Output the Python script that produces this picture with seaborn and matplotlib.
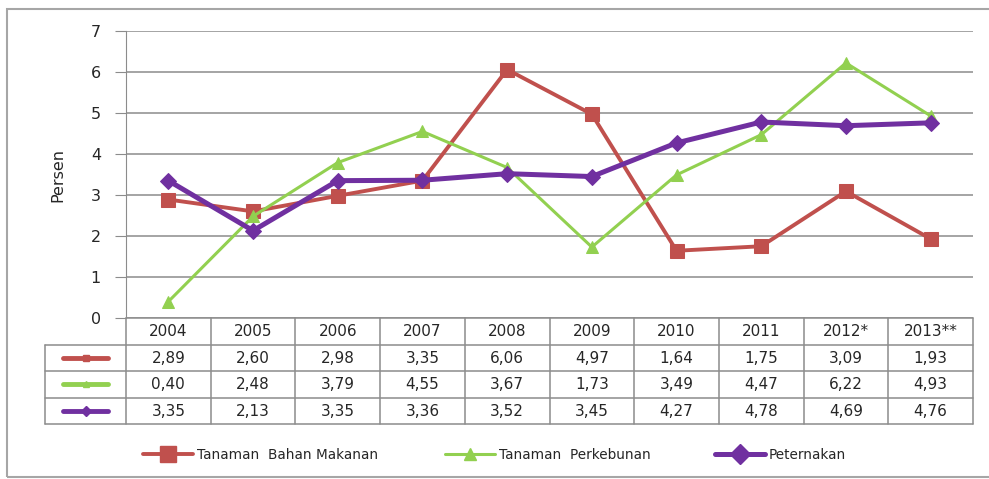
import pandas as pd
import numpy as np
import matplotlib
matplotlib.use("Agg")
import matplotlib.pyplot as plt
import seaborn as sns
from matplotlib.lines import Line2D
from matplotlib.patches import Rectangle

# ==========================================
# Data
# ==========================================

years = ["2004", "2005", "2006", "2007", "2008", "2009", "2010", "2011", "2012*", "2013**"]
bahan_makanan = [2.89, 2.60, 2.98, 3.35, 6.06, 4.97, 1.64, 1.75, 3.09, 1.93]
perkebunan = [0.40, 2.48, 3.79, 4.55, 3.67, 1.73, 3.49, 4.47, 6.22, 4.93]
peternakan = [3.35, 2.13, 3.35, 3.36, 3.52, 3.45, 4.27, 4.78, 4.69, 4.76]

series_names = ["Tanaman  Bahan Makanan", "Tanaman  Perkebunan", "Peternakan"]
series_values = [bahan_makanan, perkebunan, peternakan]
colors = ["#C0504D", "#92D050", "#7030A0"]
markers = ["s", "^", "D"]
marker_sizes = [10, 9, 8]
line_widths = [2.8, 2.2, 3.6]

rows = []
for name, vals in zip(series_names, series_values):
    for i, v in enumerate(vals):
        rows.append({"idx": i, "year": years[i], "value": v, "series": name})
df = pd.DataFrame(rows)

# ==========================================
# Figure
# ==========================================

W, H = 989, 479
fig = plt.figure(figsize=(W / 100, H / 100), dpi=100)
sns.set_style("white")
plt.rcParams["font.family"] = ["DejaVu Sans"]

def fx(px):
    return px / W

def fy(py):
    return 1 - py / H

left_px, right_px = 126, 973
top_px, bottom_px = 31, 318
table_left_px, table_bottom_px = 45, 424
gc = "#8C8C8C"

ax = fig.add_axes([fx(left_px), fy(bottom_px), fx(right_px) - fx(left_px), fy(top_px) - fy(bottom_px)])

for name, color, m, ms, lw in zip(series_names, colors, markers, marker_sizes, line_widths):
    sub = df[df["series"] == name]
    sns.lineplot(data=sub, x="idx", y="value", ax=ax, color=color, marker=m,
                 markersize=ms, linewidth=lw, markeredgecolor=color, legend=False)

ax.set_xlim(-0.5, len(years) - 0.5)
ax.set_ylim(0, 7)
ax.set_yticks(range(0, 8))
ax.set_xticks([])
ax.set_xlabel("")
ax.set_ylabel("Persen", fontsize=11.5, labelpad=18)
ax.yaxis.grid(True, color=gc, linewidth=1.1)
ax.tick_params(axis="y", length=8, color=gc, labelsize=11.5, pad=10, left=True)
for s in ["top", "right", "bottom"]:
    ax.spines[s].set_visible(False)
ax.spines["left"].set_color(gc)

# ==========================================
# Data Table
# ==========================================

tax = fig.add_axes([fx(table_left_px), fy(table_bottom_px),
                    fx(right_px) - fx(table_left_px), fy(bottom_px) - fy(table_bottom_px)])
col_w = (right_px - left_px) / len(years)
label_w = (left_px - table_left_px) / col_w
tax.set_xlim(-0.5 - label_w, len(years) - 0.5)
tax.set_ylim(4, 0)
tax.axis("off")

# horizontal lines
tax.plot([-0.5, len(years) - 0.5], [0, 0], color=gc, lw=1.1, clip_on=False)
for r in range(1, 5):
    tax.plot([-0.5 - label_w, len(years) - 0.5], [r, r], color=gc, lw=1.1, clip_on=False)
# vertical lines
for c in range(len(years) + 1):
    tax.plot([c - 0.5, c - 0.5], [0, 4], color=gc, lw=1.1, clip_on=False)
tax.plot([-0.5 - label_w, -0.5 - label_w], [1, 4], color=gc, lw=1.1, clip_on=False)

for i, y in enumerate(years):
    tax.text(i, 0.52, y, ha="center", va="center", fontsize=11)
for r, vals in enumerate(series_values):
    for i, v in enumerate(vals):
        tax.text(i, r + 1.52, f"{v:.2f}".replace(".", ","), ha="center", va="center", fontsize=11)
    cx = -0.5 - label_w / 2
    tax.plot([cx - 0.26, cx + 0.26], [r + 1.5, r + 1.5], color=colors[r], lw=3.5,
             solid_capstyle="round", clip_on=False)
    tax.plot([cx], [r + 1.5], marker=markers[r], color=colors[r], markersize=5, clip_on=False)

# ==========================================
# Legend and frame
# ==========================================

legend_x = [143, 445, 715]
legend_ms = [12, 8, 10]
for name, c, m, ms, lw, lx in zip(series_names, colors, markers, legend_ms, line_widths, legend_x):
    h = Line2D([0], [0], color=c, marker=m, markersize=ms, linewidth=lw)
    leg = fig.legend([h], [name], loc="center left", bbox_to_anchor=(fx(lx), fy(455)),
                     frameon=False, fontsize=9.8, handlelength=3.7, handletextpad=0.25,
                     borderpad=0, borderaxespad=0)

fig.patches.append(Rectangle((fx(7), fy(477)), 1.2, fy(9) - fy(477), transform=fig.transFigure,
                             fill=False, edgecolor="#A6A6A6", linewidth=1.5))

fig.savefig("out.png", dpi=100)
